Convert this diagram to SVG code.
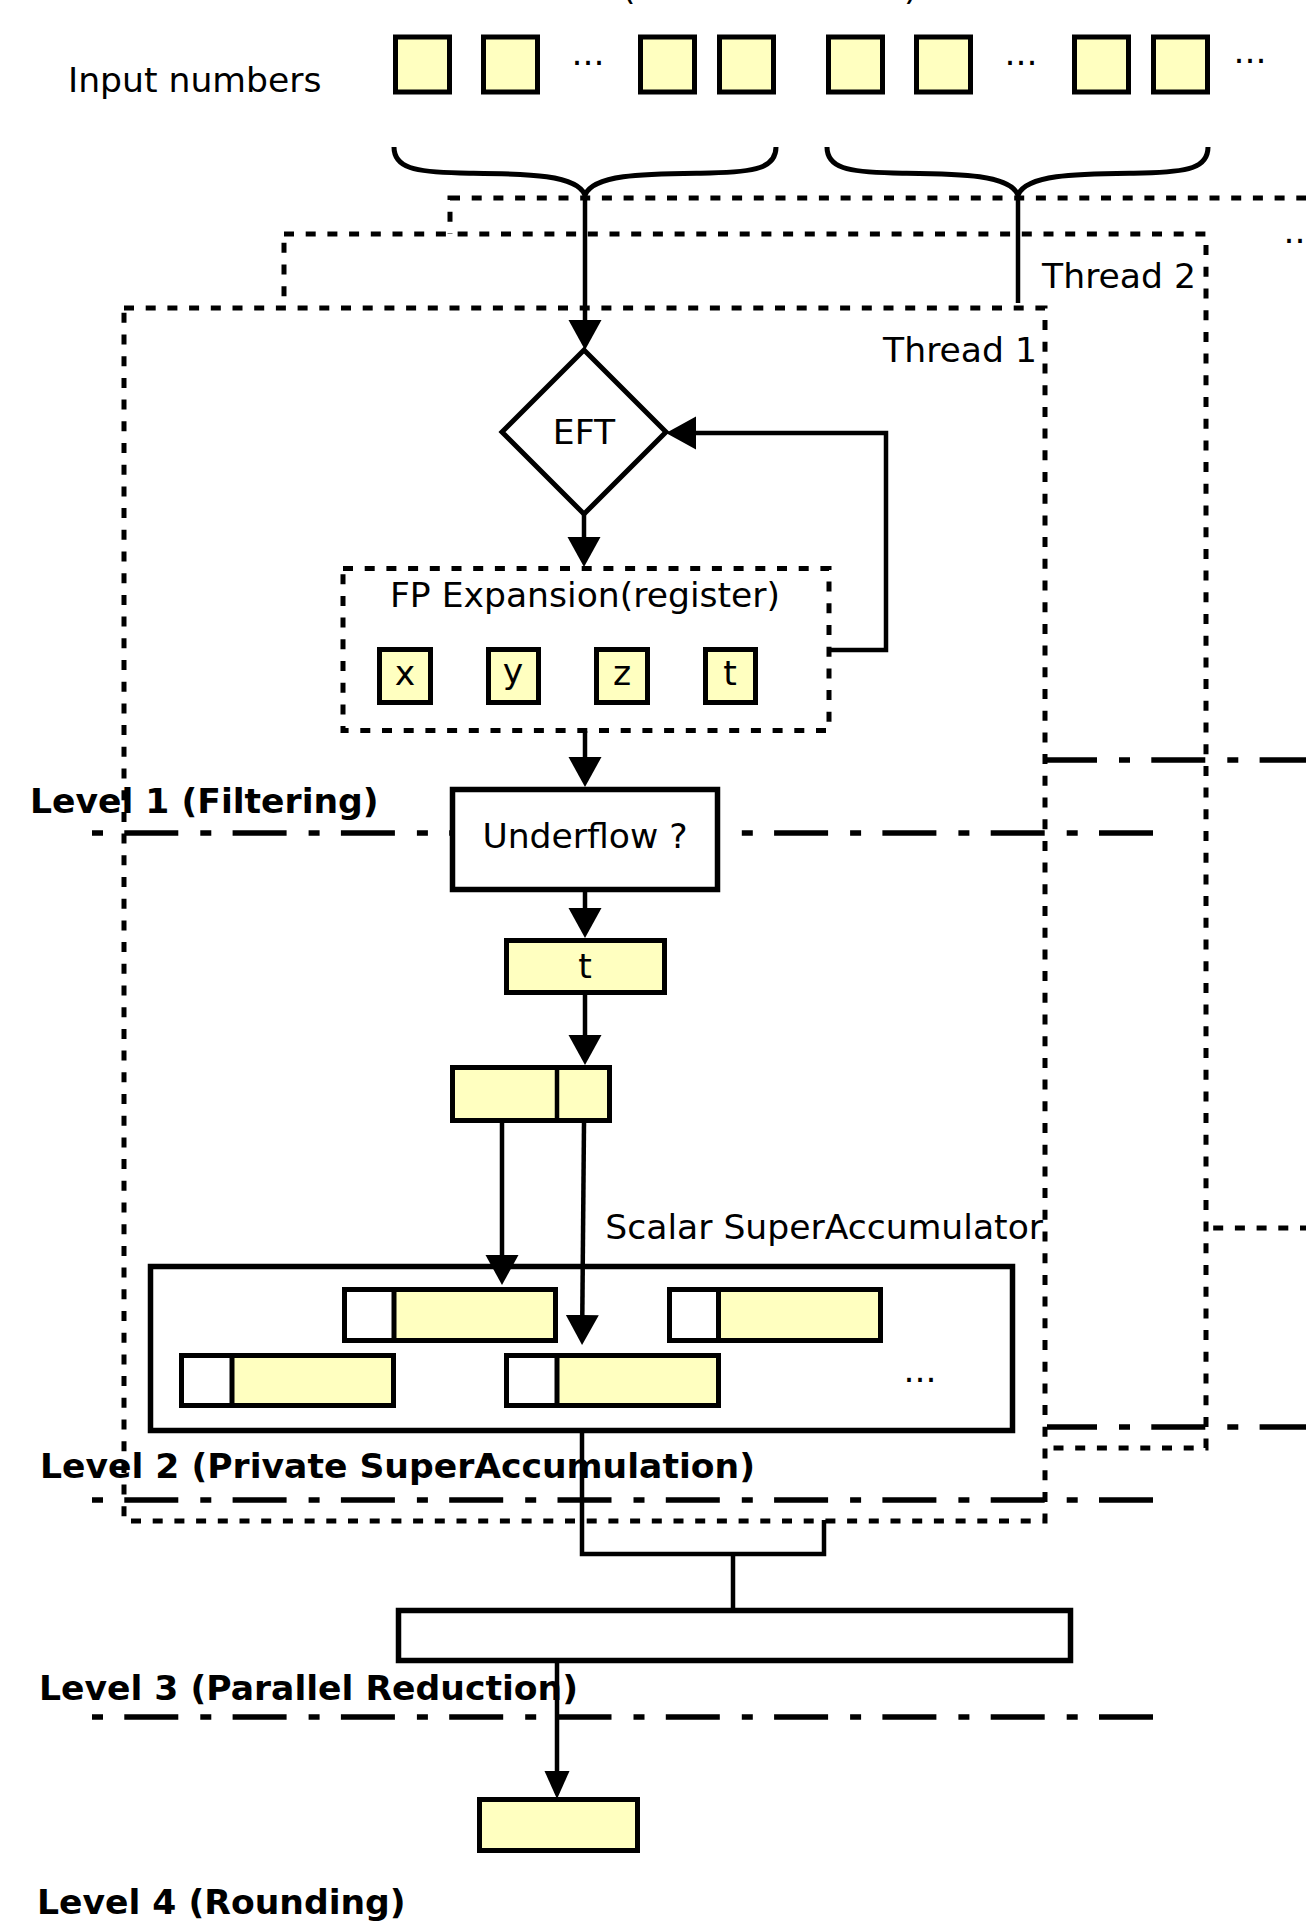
<svg xmlns="http://www.w3.org/2000/svg" width="1306" height="1924" viewBox="0 0 1306 1924">
<defs>
<style>
.t{font-family:"DejaVu Sans","Liberation Sans",sans-serif;font-size:34.6px;fill:#000}
.c{text-anchor:middle}
.e{text-anchor:end}
.b{font-family:"DejaVu Sans","Liberation Sans",sans-serif;font-size:34.6px;font-weight:bold;fill:#000}
.y{fill:#ffffc0;stroke:#000;stroke-width:5}
.w{fill:#fff;stroke:#000;stroke-width:5.5}
.thr{fill:#fff;stroke:#000;stroke-width:5;stroke-dasharray:10 11.7}
.dot{fill:none;stroke:#000;stroke-width:5;stroke-dasharray:10 11.7}
.lvl{fill:none;stroke:#000;stroke-width:5.5;stroke-dasharray:11 21.3 54 22}
.lvl2{fill:none;stroke:#000;stroke-width:5.5;stroke-dasharray:54 22 11 21.3;stroke-dashoffset:4}
.ln{fill:none;stroke:#000;stroke-width:4.5}
.br{fill:none;stroke:#000;stroke-width:5}
</style>
<marker id="ah" markerUnits="userSpaceOnUse" markerWidth="34" markerHeight="34" viewBox="0 0 34 34" refX="24" refY="16.5" orient="auto"><path d="M0,0 L30,16.5 L0,33 z" fill="#000"/></marker>
<marker id="ahs" markerUnits="userSpaceOnUse" markerWidth="30" markerHeight="26" viewBox="0 0 30 26" refX="22" refY="12.5" orient="auto"><path d="M0,0 L28,12.5 L0,25 z" fill="#000"/></marker>
</defs>
<rect width="1306" height="1924" fill="#fff"/>

<!-- cut-off text at the top -->
<text class="t" x="622" y="0">(</text>
<text class="t" x="904" y="0">)</text>

<g id="threads">
  <g id="thread3">
    <rect class="thr" x="450" y="198" width="1000" height="1030"/>
    <text class="t" x="1283.5" y="243">...</text>
  </g>
  <g id="thread2">
    <rect class="thr" x="284" y="234" width="922" height="1214"/>
    <path class="lvl2" d="M1047,760 H1306"/>
    <path class="lvl2" d="M1047,1427 H1306"/>
    <text class="t e" x="1196" y="288">Thread 2</text>
  </g>
  <g id="thread1">
    <rect class="thr" x="124" y="308" width="921" height="1213"/>
    <text class="t e" x="1037" y="362">Thread 1</text>
  </g>
</g>

<g id="levels">
  <path class="lvl" d="M92,833 H1154"/>
  <path class="lvl" d="M92,1500 H1154"/>
  <path class="lvl" d="M92,1717 H1154"/>
</g>

<g id="input-numbers">
  <text class="t" x="68" y="92">Input numbers</text>
  <rect class="y" x="395.5" y="37" width="54" height="55"/>
  <rect class="y" x="483.5" y="37" width="54" height="55"/>
  <text class="t" x="571.5" y="65">...</text>
  <rect class="y" x="640.5" y="37" width="54" height="55"/>
  <rect class="y" x="719.5" y="37" width="54" height="55"/>
  <rect class="y" x="828.5" y="37" width="54" height="55"/>
  <rect class="y" x="916.5" y="37" width="54" height="55"/>
  <text class="t" x="1004.5" y="65">...</text>
  <rect class="y" x="1074.5" y="37" width="54" height="55"/>
  <rect class="y" x="1153.5" y="37" width="54" height="55"/>
  <text class="t" x="1233.5" y="63">...</text>
</g>

<g id="eft">
  <polygon points="584,350 666,432 584,514 502,432" fill="#fff" stroke="#000" stroke-width="5"/>
  <text class="t c" x="584" y="444">EFT</text>
</g>

<g id="fp-expansion">
  <rect class="dot" x="343" y="568.5" width="486" height="162"/>
  <text class="t c" x="585" y="607">FP Expansion(register)</text>
  <rect class="y" x="379.5" y="649.5" width="51" height="53"/>
  <text class="t c" x="405" y="685">x</text>
  <rect class="y" x="488.5" y="649.5" width="50" height="53"/>
  <text class="t c" x="513" y="683">y</text>
  <rect class="y" x="596.5" y="649.5" width="51" height="53"/>
  <text class="t c" x="622" y="685">z</text>
  <rect class="y" x="705.5" y="649.5" width="50" height="53"/>
  <text class="t c" x="730" y="685">t</text>
</g>

<g id="underflow">
  <rect class="w" x="452.5" y="789.5" width="265" height="100"/>
  <text class="t c" x="585" y="848">Underflow ?</text>
</g>

<g id="t-value">
  <rect class="y" x="506.5" y="940.5" width="158" height="52"/>
  <text class="t c" x="585" y="978">t</text>
</g>

<g id="split">
  <rect class="y" x="452.5" y="1067.5" width="157" height="53"/>
  <path class="ln" d="M557,1067.5 V1120.5"/>
</g>

<g id="superaccumulator">
  <text class="t e" x="1043" y="1239">Scalar SuperAccumulator</text>
  <rect class="w" x="150.5" y="1266.5" width="862" height="164"/>
  <rect class="y" x="344.5" y="1289.5" width="211" height="51"/>
  <rect fill="#fff" stroke="#000" stroke-width="5" x="344.5" y="1289.5" width="49.5" height="51"/>
  <rect class="y" x="669.5" y="1289.5" width="211" height="51"/>
  <rect fill="#fff" stroke="#000" stroke-width="5" x="669.5" y="1289.5" width="49" height="51"/>
  <rect class="y" x="181.5" y="1355.5" width="212" height="50"/>
  <rect fill="#fff" stroke="#000" stroke-width="5" x="181.5" y="1355.5" width="50.5" height="50"/>
  <rect class="y" x="506.5" y="1355.5" width="212" height="50"/>
  <rect fill="#fff" stroke="#000" stroke-width="5" x="506.5" y="1355.5" width="50.5" height="50"/>
  <text class="t" x="903.5" y="1382">...</text>
</g>

<g id="reduction">
  <rect class="w" x="398.5" y="1610.5" width="672" height="50"/>
</g>

<g id="result">
  <rect class="y" x="479.5" y="1799.5" width="158" height="51"/>
</g>

<g id="connectors">
  <path class="br" d="M394,147 C394,168 415,172 460,173 C520,174 576,173 585,195 C594,173 650,174 710,173 C755,172 776,168 776,147"/>
  <path class="br" d="M827,147 C827,168 848,172 893,173 C953,174 1009,173 1018,195 C1027,173 1083,174 1143,173 C1188,172 1208,168 1208,147"/>
  <path class="ln" d="M585,195 V344" marker-end="url(#ah)"/>
  <path class="ln" d="M1018,195 V303"/>
  <path class="ln" d="M584,514 V561" marker-end="url(#ah)"/>
  <path class="ln" d="M829,650 H886 V433 H672" marker-end="url(#ah)"/>
  <path class="ln" d="M585,731 V781" marker-end="url(#ah)"/>
  <path class="ln" d="M585,892 V932" marker-end="url(#ah)"/>
  <path class="ln" d="M585,995 V1059" marker-end="url(#ah)"/>
  <path class="ln" d="M502,1123 V1279" marker-end="url(#ah)"/>
  <path class="ln" d="M584,1123 L582.1,1339" marker-end="url(#ah)"/>
  <path class="ln" d="M582,1433 V1554 H824 V1520"/>
  <path class="ln" d="M733,1554 V1608"/>
  <path class="ln" d="M557,1663 V1793" marker-end="url(#ahs)"/>
</g>

<g id="level-labels">
  <text class="b" x="30" y="813">Level 1 (Filtering)</text>
  <text class="b" x="40" y="1478">Level 2 (Private SuperAccumulation)</text>
  <text class="b" x="39" y="1700">Level 3 (Parallel Reduction)</text>
  <text class="b" x="37" y="1914">Level 4 (Rounding)</text>
</g>
</svg>
